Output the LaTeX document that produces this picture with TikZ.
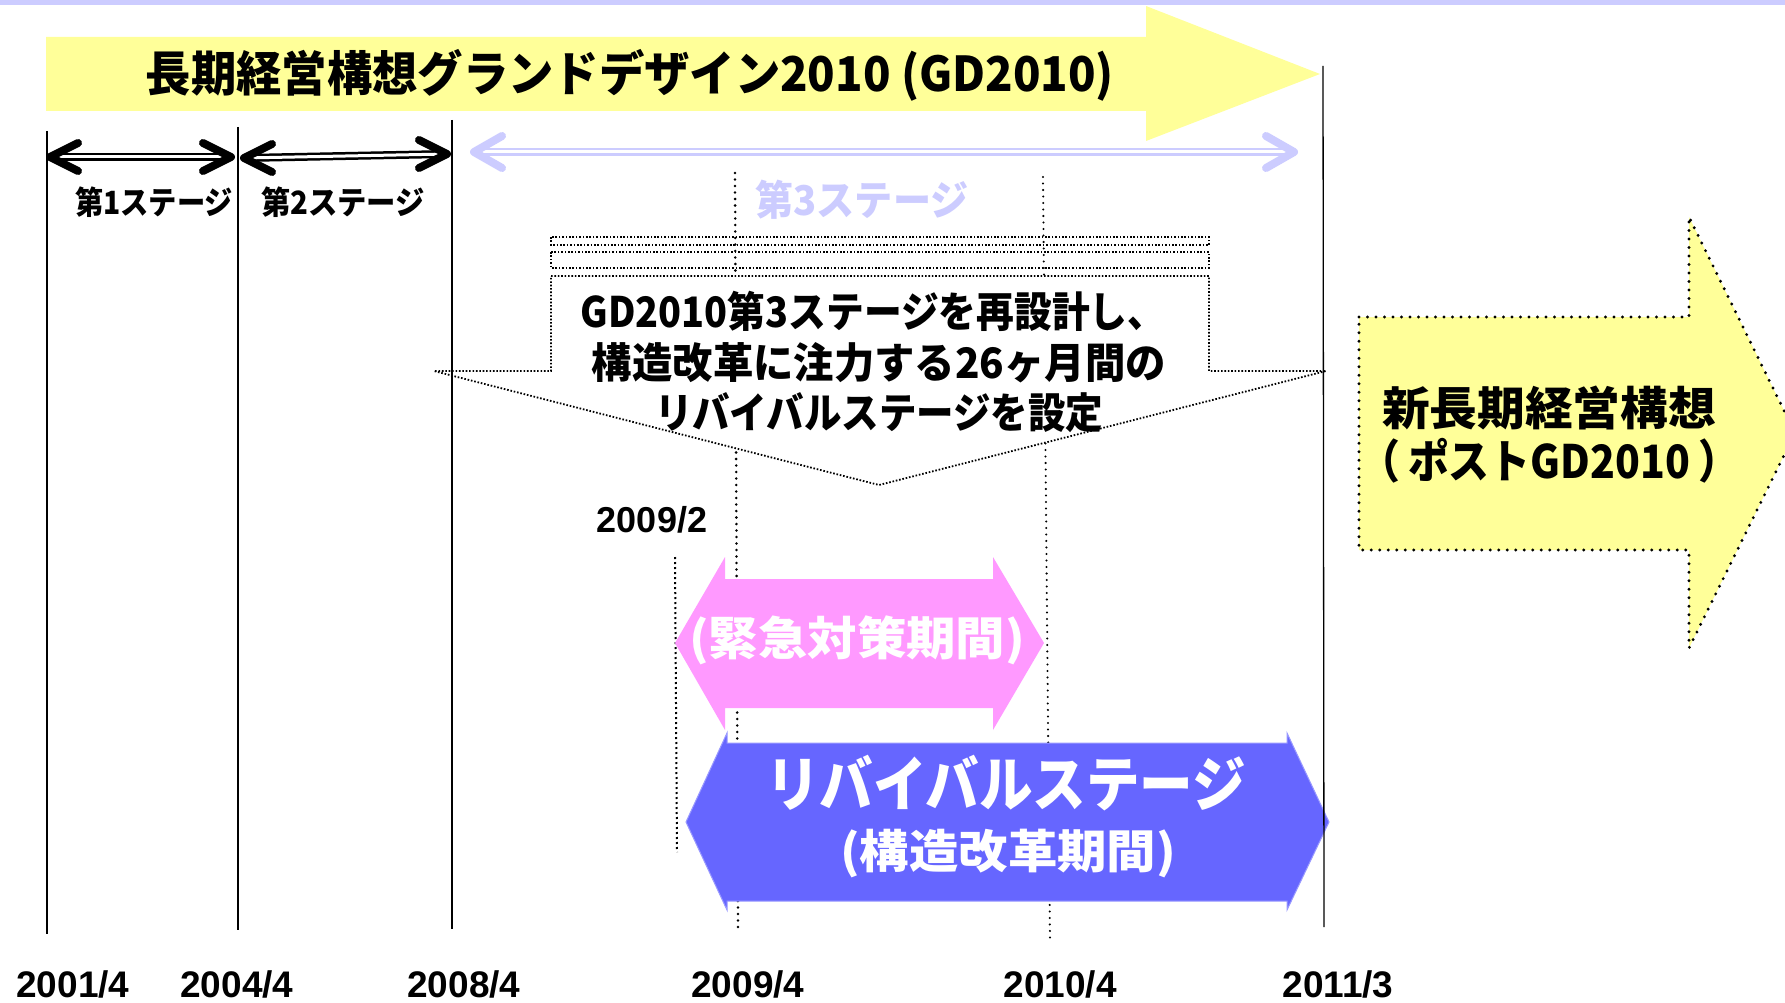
\documentclass[tikz,border=0pt]{standalone}
\usepackage{fontspec}
\usepackage{graphicx}
\setmainfont{Liberation Sans}
\newfontfamily\jp{Noto Sans CJK JP}
\definecolor{ylw}{HTML}{FFFF99}
\definecolor{lav}{HTML}{CCCCFF}
\definecolor{pnk}{HTML}{FF99FF}
\definecolor{blu}{HTML}{6666FF}
\definecolor{bluedge}{HTML}{9999FF}
\newcommand{\fitw}[3]{\resizebox{#1}{\height}{\fontsize{#2}{#2}\selectfont #3}}
\begin{document}
\begin{tikzpicture}[x=1pt,y=-1pt,
  solidline/.style={draw=black, line width=1.3pt},
  dotline/.style={draw=black, line width=2.8pt, line cap=round, dash pattern=on 0pt off 6.5pt},
  finedot/.style={draw=black, line width=1.8pt, dash pattern=on 1.6pt off 1.8pt},
  bigdot/.style={draw=black, line width=3.2pt, line cap=round, dash pattern=on 0pt off 8.5pt},
  chev/.style={line width=8pt, line cap=round, line join=round},
  shaft/.style={line width=2.5pt, double=white, double distance=3pt},
  jpb/.style={font=\jp\bfseries, inner sep=0pt},
  datelbl/.style={font=\fontsize{37pt}{37pt}\selectfont\bfseries, inner sep=0pt},
]
\useasboundingbox (0,0) rectangle (1785,1003);
\clip (0,0) rectangle (1785,1003);
\fill[white] (0,0) rectangle (1785,1003);
\fill[lav] (0,0) rectangle (1785,5);

% title arrow
\fill[ylw] (46,37) -- (1146,37) -- (1146,6) -- (1320,74) -- (1146,141) -- (1146,111) -- (46,111) -- cycle;

% coordinates
\coordinate (a1t) at (47,131);  \coordinate (a1b) at (47,934);
\coordinate (a2t) at (238,127); \coordinate (a2b) at (238,930);
\coordinate (a3t) at (452,120); \coordinate (a3b) at (452,929);
\coordinate (a4t) at (1323,66); \coordinate (a4b) at (1324,927);
\coordinate (d1t) at (735,173); \coordinate (d1b) at (738,930);
\coordinate (d2t) at (1043,177); \coordinate (d2b) at (1050,943);
\coordinate (d3t) at (675,557); \coordinate (d3b) at (677,852);

% dotted guide lines
\draw[dotline] (d1t) -- (d1b);
\draw[dotline, line width=2.3pt] (d2t) -- (d2b);
\draw[finedot, line width=2pt, dash pattern=on 2pt off 3pt] (d3t) -- (d3b);

% stacked callout frames
\draw[finedot] (551,237) rectangle (1209,245);
\draw[finedot] (551,252) rectangle (1209,268);
\filldraw[finedot, fill=white] (551,276) -- (1209,276) -- (1209,371) -- (1326,371) -- (879,485) -- (434,371) -- (551,371) -- cycle;

% pink arrow
\fill[pnk] (675,643) -- (725,557) -- (725,579) -- (993,579) -- (993,557) -- (1044,643) -- (993,730) -- (993,708) -- (725,708) -- (725,730) -- cycle;
% blue arrow
\filldraw[fill=blu, draw=bluedge, line width=1pt] (686,822) -- (727,733) -- (727,743) -- (1287,743) -- (1287,733) -- (1329,822) -- (1287,910) -- (1287,901) -- (727,901) -- (727,910) -- cycle;

% right arrow
\filldraw[bigdot, fill=ylw] (1359,317) -- (1689,317) -- (1689,217) -- (1795,433) -- (1689,648) -- (1689,550) -- (1359,550) -- cycle;

% solid lines
\draw[solidline] (a1t) -- (a1b);
\draw[solidline] (a2t) -- (a2b);
\draw[solidline] (a3t) -- (a3b);
\draw[solidline] (a4t) -- (a4b);

% stage arrows
\coordinate (s1L) at (50,157);  \coordinate (s1R) at (231,157);
\coordinate (s2L) at (244,158); \coordinate (s2R) at (447,154);
\coordinate (s3L) at (474,152); \coordinate (s3R) at (1294,152);
\draw[shaft, black] (s1L) -- (s1R);
\draw[shaft, black] (s2L) -- (s2R);
\draw[shaft, lav] (s3L) -- (s3R);
\draw[chev, black] (s1L) ++(28,-14) -- (s1L) -- ++(28,14);
\draw[chev, black] (s1R) ++(-28,-14) -- (s1R) -- ++(-28,14);
\draw[chev, black] (s2L) ++(28,-14) -- (s2L) -- ++(28,14);
\draw[chev, black] (s2R) ++(-28,-14) -- (s2R) -- ++(-28,14);
\draw[chev, lav] (s3L) ++(28,-16) -- (s3L) -- ++(28,16);
\draw[chev, lav] (s3R) ++(-28,-16) -- (s3R) -- ++(-28,16);

% texts
\node[jpb] (title) at (630,75) {\fitw{968pt}{48pt}{長期経営構想グランドデザイン2010 (GD2010)}};
\node[jpb] (st1) at (154,202) {\fitw{158pt}{32pt}{第1ステージ}};
\node[jpb] (st2) at (343,202) {\fitw{164pt}{32pt}{第2ステージ}};
\node[jpb, text=lav] (st3) at (862,200) {\fitw{213pt}{41pt}{第3ステージ}};
\node[jpb] (c1) at (873,311) {\fitw{585pt}{42pt}{GD2010第3ステージを再設計し、}};
\node[jpb] (c2) at (879,363) {\fitw{574pt}{42pt}{構造改革に注力する26ヶ月間の}};
\node[jpb] (c3) at (879,413) {\fitw{448pt}{42pt}{リバイバルステージを設定}};
\node[datelbl, font=\fontsize{36pt}{36pt}\selectfont\bfseries] (d0902) at (652,520) {2009/2};
\node[jpb, text=white] (pk) at (857,640) {\fitw{336pt}{46pt}{(緊急対策期間)}};
\node[jpb, text=white] (bl1) at (1006,783) {\fitw{480pt}{60pt}{リバイバルステージ}};
\node[jpb, text=white] (bl2) at (1008,854) {\fitw{336pt}{46pt}{(構造改革期間)}};
\node[jpb] (r1) at (1549,408) {\fitw{334pt}{46pt}{新長期経営構想}};
\node[jpb] (r2) at (1549,461) {\fitw{380pt}{46pt}{（\hspace{0.2em}ポストGD2010\hspace{0.2em}）}};
\node[datelbl] (y1) at (73,984) {2001/4};
\node[datelbl] (y2) at (237,984) {2004/4};
\node[datelbl] (y3) at (464,984) {2008/4};
\node[datelbl] (y4) at (748,984) {2009/4};
\node[datelbl] (y5) at (1060,984) {2010/4};
\node[datelbl] (y6) at (1338,984) {2011/3};
\end{tikzpicture}
\end{document}
